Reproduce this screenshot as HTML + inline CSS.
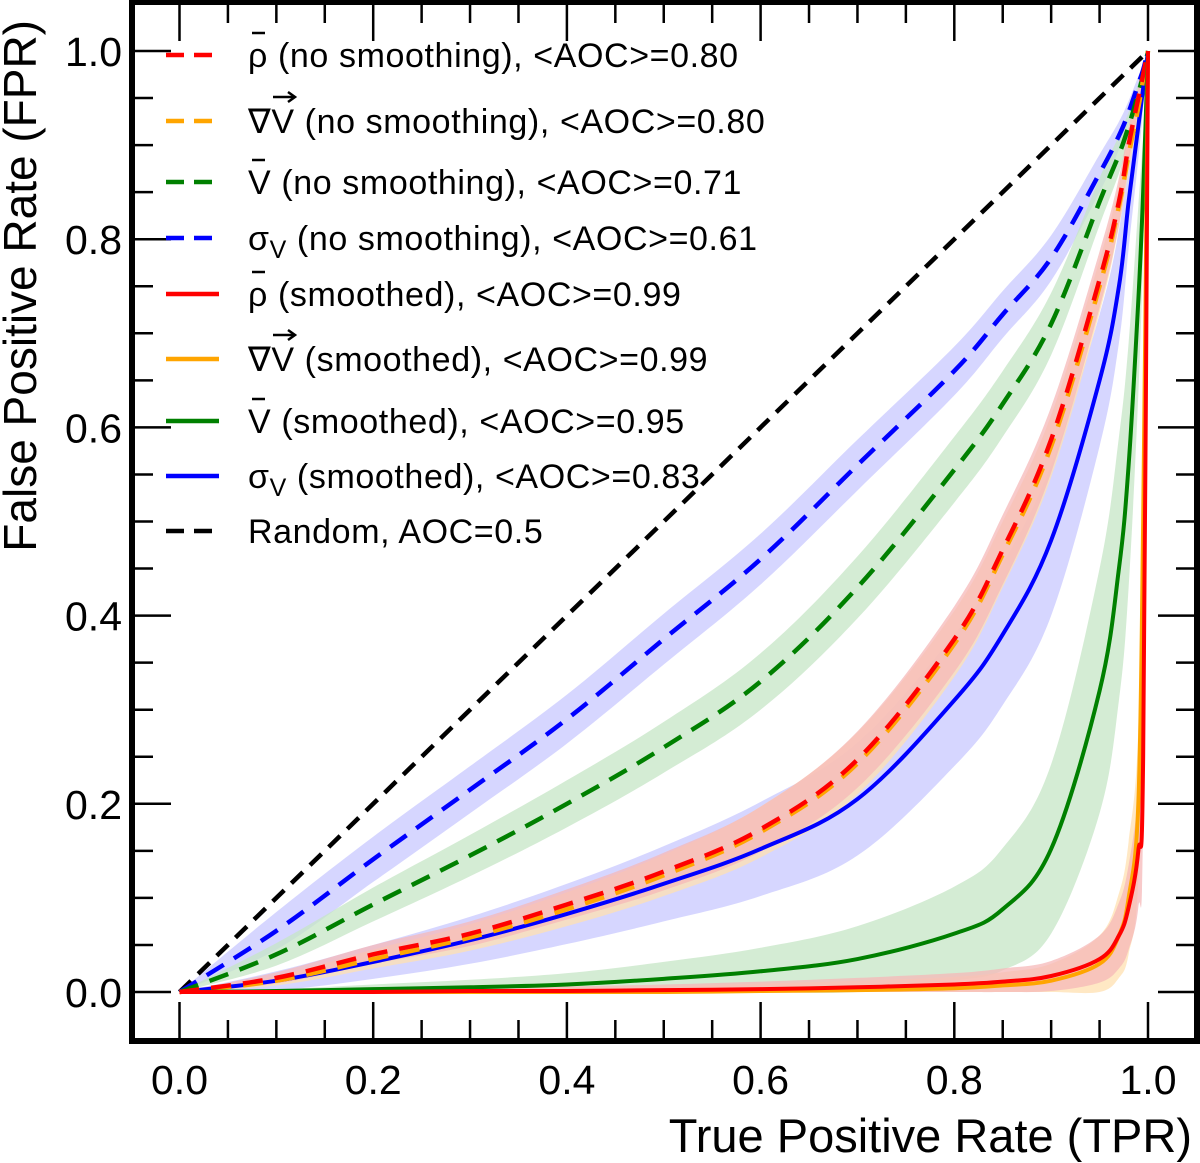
<!DOCTYPE html>
<html><head><meta charset="utf-8"><style>
body{margin:0;background:#fff;}
svg{display:block;font-family:"Liberation Sans",sans-serif;}
</style></head><body>
<svg id="chart" width="1200" height="1163" viewBox="0 0 1200 1163" xmlns="http://www.w3.org/2000/svg">
<g id="bands"></g>
<g id="lines"></g>
<g id="axes"></g>
<g id="legend"></g>
</svg>
<script>
const xs = [0,0.1,0.2,0.3,0.4,0.5,0.6,0.7,0.8,0.85,0.9,0.95,0.97,0.98,0.99,0.995,1];
const sigmaDashed = [0,0.065,0.141,0.215,0.29,0.375,0.46,0.56,0.66,0.72,0.78,0.87,0.91,0.935,0.965,0.98,1];
const vDashed = [0,0.04,0.093,0.145,0.2,0.26,0.33,0.43,0.555,0.625,0.71,0.84,0.89,0.92,0.955,0.975,1];
const rhoDashed = [0,0.015,0.04,0.062,0.093,0.128,0.173,0.247,0.375,0.47,0.587,0.757,0.84,0.9,0.95,0.975,1];
const gradDashed = [0,0.012,0.035,0.058,0.088,0.124,0.17,0.243,0.37,0.465,0.58,0.75,0.835,0.89,0.94,0.97,1];
const sigmaSmooth = [0,0.012,0.032,0.055,0.083,0.115,0.152,0.205,0.31,0.38,0.48,0.65,0.75,0.84,0.92,0.96,1];
const vSmooth = [0,0.001,0.003,0.005,0.008,0.014,0.022,0.035,0.062,0.088,0.152,0.32,0.45,0.56,0.735,0.85,1];
const rhoSmooth = [0,0,0,0.001,0.001,0.002,0.003,0.005,0.008,0.011,0.017,0.035,0.06,0.09,0.15,0.25,1];
const gradSmooth = [0,0,0,0,0,0,0.001,0.002,0.004,0.007,0.012,0.03,0.06,0.1,0.2,0.5,1];
const bandSigmaDashed = [0,0.02,0.024,0.025,0.026,0.027,0.027,0.027,0.026,0.025,0.024,0.02,0.015,0.012,0.008,0.005,0];
const bandVDashed = [0,0.012,0.018,0.022,0.025,0.027,0.03,0.033,0.035,0.035,0.033,0.025,0.02,0.015,0.01,0.005,0];
const bandRhoDashed = [0,0.006,0.01,0.013,0.016,0.02,0.024,0.03,0.035,0.037,0.035,0.03,0.025,0.02,0.012,0.006,0];
const bandGradDashed = [0,0.005,0.01,0.014,0.018,0.022,0.027,0.033,0.035,0.035,0.033,0.028,0.022,0.018,0.012,0.006,0];
const bandSigmaSmooth = [0,0.01,0.018,0.025,0.032,0.04,0.05,0.06,0.07,0.075,0.08,0.07,0.06,0.05,0.035,0.02,0];
const bandVSmooth = [0,0.002,0.005,0.008,0.012,0.018,0.025,0.035,0.05,0.065,0.09,0.13,0.14,0.13,0.1,0.06,0];
const bandRhoSmooth = [0,0.002,0.003,0.004,0.005,0.006,0.008,0.01,0.012,0.014,0.016,0.025,0.035,0.045,0.06,0.06,0];
const bandGradSmooth = [0,0.002,0.003,0.004,0.005,0.006,0.008,0.01,0.012,0.014,0.018,0.03,0.045,0.06,0.08,0.1,0];
const xTicks = [0,0.2,0.4,0.6,0.8,1.0];
const yTicks = [0,0.2,0.4,0.6,0.8,1.0];
const legendLabels = ["ρ (no smoothing), <AOC>=0.80","∇V  (no smoothing), <AOC>=0.80","V  (no smoothing), <AOC>=0.71","σ|  (no smoothing), <AOC>=0.61","ρ (smoothed), <AOC>=0.99","∇V (smoothed), <AOC>=0.99","V (smoothed), <AOC>=0.95","σ| (smoothed), <AOC>=0.83","Random, AOC=0.5"];

const NS="http://www.w3.org/2000/svg";
const X0=179.5,X1=1148,Y0=992,Y1=51;
function sx(v){return X0+v*(X1-X0);}
function sy(v){return Y0-v*(Y0-Y1);}
function mk(tag,attrs,parent){const e=document.createElementNS(NS,tag);for(const k in attrs)e.setAttribute(k,attrs[k]);parent.appendChild(e);return e;}
function smoothPath(pts,start){
  let d=(start?'M':'L')+pts[0][0]+','+pts[0][1];
  for(let i=0;i<pts.length-1;i++){
    const p0=pts[Math.max(0,i-1)],p1=pts[i],p2=pts[i+1],p3=pts[Math.min(pts.length-1,i+2)];
    const t=0.35/ 2;
    const c1x=p1[0]+(p2[0]-p0[0])*t,c1y=p1[1]+(p2[1]-p0[1])*t;
    const c2x=p2[0]-(p3[0]-p1[0])*t,c2y=p2[1]-(p3[1]-p1[1])*t;
    d+=' C'+c1x+','+c1y+' '+c2x+','+c2y+' '+p2[0]+','+p2[1];
  }
  return d;
}
const bands=document.getElementById('bands'),lines=document.getElementById('lines'),axes=document.getElementById('axes'),legend=document.getElementById('legend');

const series=[
 {v:sigmaDashed,b:bandSigmaDashed,c:'#0000ff',f:'#c8c8ff',d:true,n:'sigma-no-smoothing'},
 {v:vDashed,b:bandVDashed,c:'#008000',f:'#c6e6c6',d:true,n:'vbar-no-smoothing'},
 {v:sigmaSmooth,b:bandSigmaSmooth,c:'#0000ff',f:'#c8c8ff',d:false,n:'sigma-smoothed'},
 {v:gradDashed,b:bandGradDashed,c:'#ffa500',f:'#ffe0b0',d:true,n:'gradv-no-smoothing'},
 {v:rhoDashed,b:bandRhoDashed,c:'#ff0000',f:'#f5b8b8',d:true,n:'rho-no-smoothing'},
 {v:vSmooth,b:bandVSmooth,c:'#008000',f:'#c6e6c6',d:false,n:'vbar-smoothed'},
 {v:gradSmooth,b:bandGradSmooth,c:'#ffa500',f:'#ffe0b0',d:false,n:'gradv-smoothed'},
 {v:rhoSmooth,b:bandRhoSmooth,c:'#ff0000',f:'#f5b8b8',d:false,n:'rho-smoothed'}
];
series.forEach(s=>{
  const up=xs.map((x,i)=>[sx(x),sy(Math.min(1,s.v[i]+s.b[i]))]);
  const lo=xs.map((x,i)=>[sx(x),sy(Math.max(0,s.v[i]-s.b[i]))]).reverse();
  const p=mk('path',{d:smoothPath(up,true)+' '+smoothPath(lo,false)+' Z',fill:s.f,'fill-opacity':0.75},bands);
  
  
});
const rnd=mk('line',{x1:sx(0),y1:sy(0),x2:sx(1),y2:sy(1),stroke:'#000','stroke-width':4.5,'stroke-dasharray':'16 10'},lines);


series.forEach(s=>{
  const pts=xs.map((x,i)=>[sx(x),sy(s.v[i])]);
  const pl=mk('path',{d:smoothPath(pts,true),fill:'none',stroke:s.c,'stroke-width':s.d?4.5:4,'stroke-linejoin':'round'},lines);
  if(s.d)pl.setAttribute('stroke-dasharray','20 12');
  
  
});

const fr=mk('rect',{x:132,y:2,width:1065,height:1039,fill:'none',stroke:'#000','stroke-width':6},axes);


for(let i=0;i<=20;i++){
  const v=i*0.05, major=i%4==0, L=major?36:18;
  const xp=sx(v), yp=sy(v);
  mk('line',{x1:xp,y1:1038,x2:xp,y2:1038-L,stroke:'#000','stroke-width':2.5},axes);
  mk('line',{x1:xp,y1:5,x2:xp,y2:5+L,stroke:'#000','stroke-width':2.5},axes);
  mk('line',{x1:135,y1:yp,x2:135+L,y2:yp,stroke:'#000','stroke-width':2.5},axes);
  mk('line',{x1:1194,y1:yp,x2:1194-L,y2:yp,stroke:'#000','stroke-width':2.5},axes);
}
xTicks.forEach(v=>{
  const t=mk('text',{x:sx(v),y:1094,'font-size':41,'text-anchor':'middle'},axes);
  t.textContent=v.toFixed(1);
  
  
});
yTicks.forEach(v=>{
  const t=mk('text',{x:122,y:sy(v)+15,'font-size':41,'text-anchor':'end'},axes);
  t.textContent=v.toFixed(1);
  
  
});
const xt=mk('text',{x:1192,y:1152,'font-size':47,'text-anchor':'end'},axes);
xt.textContent='True Positive Rate (TPR)';


const yt=mk('text',{x:0,y:0,'font-size':46,'text-anchor':'end',transform:'translate(36,20) rotate(-90)'},axes);
yt.textContent='False Positive Rate (FPR)';



const lgColors=['#ff0000','#ffa500','#008000','#0000ff','#ff0000','#ffa500','#008000','#0000ff','#000'];
const lgDashed=[true,true,true,true,false,false,false,false,true];
const lgAccent=['bar','arrow','bar','','bar','arrow','bar','',''];
const lgY=[55,121,182,238,294,359,421,476,531];
legendLabels.forEach((lab,i)=>{
  const g=mk('g',{},legend);
  
  
  const ln=mk('line',{x1:166,y1:lgY[i],x2:219,y2:lgY[i],stroke:lgColors[i],'stroke-width':4.5},g);
  if(lgDashed[i])ln.setAttribute('stroke-dasharray','18 10');
  const t=mk('text',{x:248,y:lgY[i]+12,'font-size':34,'letter-spacing':0.6},g);
  const parts=lab.split('|');
  if(parts.length>1){
    t.appendChild(document.createTextNode(parts[0]));
    const ts=mk('tspan',{'font-size':25,dy:8},t);ts.textContent='V';
    const ts2=mk('tspan',{dy:-8},t);ts2.textContent=parts[1];
  } else t.textContent=lab;
  if(lgAccent[i]==='bar'){
    mk('line',{x1:252,y1:lgY[i]-22,x2:265,y2:lgY[i]-22,stroke:'#000','stroke-width':2.5},g);
  } else if(lgAccent[i]==='arrow'){
    mk('line',{x1:273,y1:lgY[i]-24,x2:294,y2:lgY[i]-24,stroke:'#000','stroke-width':2.5},g);
    mk('path',{d:'M288,'+(lgY[i]-29)+' L295,'+(lgY[i]-24)+' L288,'+(lgY[i]-19),fill:'none',stroke:'#000','stroke-width':2.5},g);
  }
});
</script>
</body></html>
